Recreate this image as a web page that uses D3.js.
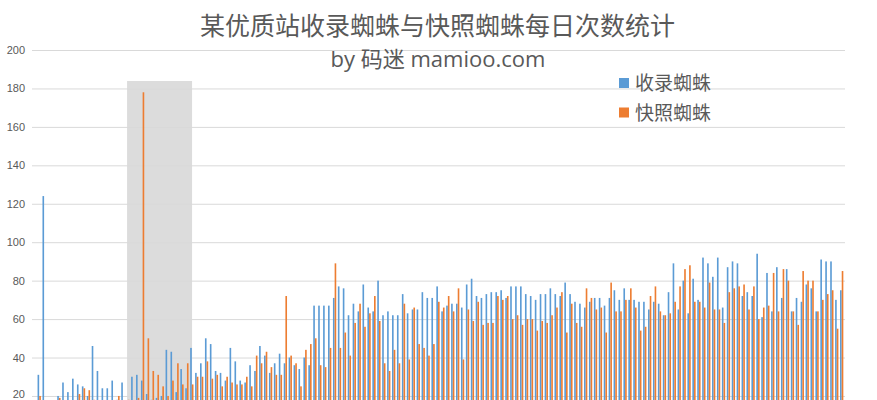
<!DOCTYPE html>
<html>
<head>
<meta charset="utf-8">
<script src="https://cdn.jsdelivr.net/npm/d3@7"></script>
<style>
  html, body { margin: 0; padding: 0; background: #fff; }
  svg { display: block; font-family: "Open Sans", "Noto Sans CJK SC", sans-serif; }
</style>
</head>
<body>
<svg id="chart" width="877" height="400"></svg>
<script>
const title = "某优质站收录蜘蛛与快照蜘蛛每日次数统计";
const subtitle = "by 码迷 mamioo.com";
const seriesNames = ["收录蜘蛛", "快照蜘蛛"];
const seriesColors = ["#5B9BD5", "#ED7D31"];
const yTicks = [20, 40, 60, 80, 100, 120, 140, 160, 180, 200];

const recordSpider = [
  31,124,14,16,20,27,22,29,26,25,20,46,33,24,24,28,18,27,17,30,
  31,28,21,18,19,20,44,43,22,34,24,45,32,37,50,47,33,32,28,45,
  38,28,27,36,33,46,41,32,37,42,37,40,36,34,40,36,67,67,67,67,
  71,77,76,62,68,64,78,66,64,80,62,64,62,62,73,63,65,65,74,71,
  71,77,64,67,68,68,66,78,81,72,71,73,74,74,75,71,77,77,77,73,
  72,70,73,73,76,73,72,79,73,69,68,66,69,71,71,67,71,75,70,76,
  70,70,69,69,65,69,68,62,74,89,65,80,63,81,70,92,89,82,92,66,
  87,90,89,72,74,72,94,61,84,64,87,71,86,64,71,69,78,76,64,91,
  90,90,70,75
];
const snapshotSpider = [
  20,12,10,12,19,15,14,16,21,24,23,18,16,15,17,16,20,15,18,17,
  19,178,50,33,31,25,20,28,37,26,37,26,30,30,38,29,31,25,30,27,
  26,26,30,25,41,37,43,35,31,31,72,41,37,25,44,47,50,36,35,45,
  89,45,53,41,58,68,56,63,72,59,37,33,44,37,68,39,66,47,45,41,
  47,69,66,72,64,76,39,65,59,69,57,58,58,72,70,72,60,62,57,60,
  60,54,59,58,62,66,74,53,68,58,56,76,71,65,66,53,79,64,64,70,
  76,66,54,56,72,77,64,62,63,69,77,86,88,69,69,66,79,65,65,58,
  74,76,77,78,65,77,60,66,67,84,64,86,80,64,57,85,80,80,64,70,
  73,75,55,85
];
const days = recordSpider.map((_, i) => i + 1);
const highlightDays = [19, 32]; // highlighted period (first and last day)

const svg = d3.select("#chart");
const W = 877, H = 400;

const x = d3.scaleBand().domain(days).range([36.5, 843.9]).paddingInner(0).paddingOuter(0);
const y = d3.scaleLinear().domain([0, 200]).range([434.4, 50]);
const bw = x.bandwidth();
const inner = d3.scaleBand().domain([0, 1]).range([bw * 0.2, bw * 0.9]).padding(0.04);

// highlight rectangle
const hx0 = x(highlightDays[0]) + bw * 0.4;
const hx1 = x(highlightDays[1]) + bw * 0.6;
svg.append("rect")
  .attr("x", hx0)
  .attr("y", 81)
  .attr("width", hx1 - hx0)
  .attr("height", H - 81)
  .attr("fill", "#dcdcdc");

// gridlines
const yAxis = d3.axisLeft(y).tickValues(yTicks).tickSize(-(845 - 32)).tickPadding(8);
const gAxis = svg.append("g").attr("transform", "translate(32,0)").call(yAxis);
gAxis.select(".domain").remove();
gAxis.selectAll(".tick line").attr("stroke", "#d9d9d9").attr("stroke-width", 1);
gAxis.selectAll(".tick text")
  .attr("fill", "#595959")
  .style("font-size", "11px")
  .attr("x", -7)
  .attr("dy", (d) => d === 20 ? "0.1em" : "0.32em");

// bars
const series = [recordSpider, snapshotSpider];
series.forEach((vals, s) => {
  svg.append("g").selectAll("rect")
    .data(vals)
    .join("rect")
    .attr("x", (d, i) => x(days[i]) + inner(s))
    .attr("width", inner.bandwidth())
    .attr("y", d => y(d))
    .attr("height", d => y(0) - y(d))
    .attr("fill", seriesColors[s]);
});

// titles
svg.append("text")
  .attr("x", 437.5).attr("y", 35)
  .attr("text-anchor", "middle")
  .attr("fill", "#595959")
  .style("font-size", "25px")
  .text(title);
svg.append("text")
  .attr("x", 438).attr("y", 67)
  .attr("text-anchor", "middle")
  .attr("fill", "#595959")
  .style("font-size", "22px")
  .text(subtitle);

// legend
const legend = svg.append("g");
seriesNames.forEach((name, i) => {
  const gy = 78 + i * 29.5;
  legend.append("rect")
    .attr("x", 619).attr("y", gy)
    .attr("width", 10).attr("height", 10)
    .attr("fill", seriesColors[i]);
  legend.append("text")
    .attr("x", 635).attr("y", gy + 12)
    .attr("fill", "#595959")
    .style("font-size", "19px")
    .text(name);
});
</script>
</body>
</html>
